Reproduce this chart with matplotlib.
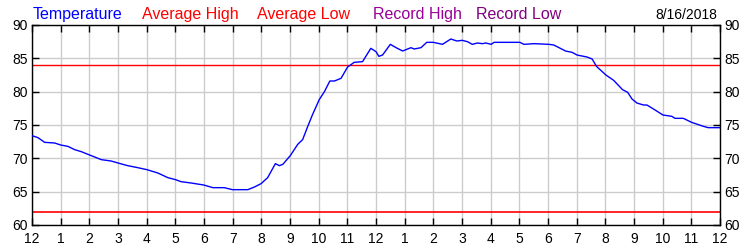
import matplotlib
matplotlib.use("Agg")
import matplotlib.pyplot as plt

hours = [0.0, 0.21, 0.44, 0.79, 1.0, 1.25, 1.49, 1.72, 2.01, 2.42, 2.76, 3.0, 3.34, 3.69,
         4.01, 4.39, 4.74, 5.01, 5.2, 5.55, 5.99, 6.31, 6.71, 6.99, 7.53, 7.76, 7.99, 8.22,
         8.49, 8.63, 8.75, 9.01, 9.27, 9.44, 9.62, 9.79, 10.02, 10.2, 10.39, 10.55, 10.78,
         11.01, 11.24, 11.53, 11.82, 12.0, 12.1, 12.23, 12.5, 12.7, 12.93, 13.22, 13.33,
         13.57, 13.77, 14.0, 14.32, 14.61, 14.82, 15.01, 15.19, 15.36, 15.54, 15.71, 15.83,
         16.02, 16.12, 17.02, 17.16, 17.51, 18.03, 18.2, 18.43, 18.61, 18.84, 19.01, 19.36,
         19.54, 19.69, 20.02, 20.29, 20.6, 20.78, 20.93, 21.1, 21.33, 21.45, 21.68, 22.01,
         22.32, 22.43, 22.72, 23.01, 23.42, 23.59, 24.0]
temps = [73.4, 73.1, 72.4, 72.3, 72.0, 71.8, 71.3, 71.0, 70.5, 69.8, 69.6, 69.3, 68.9, 68.6,
         68.3, 67.8, 67.1, 66.8, 66.5, 66.3, 66.0, 65.6, 65.6, 65.3, 65.3, 65.7, 66.2, 67.1,
         69.2, 68.9, 69.1, 70.4, 72.1, 72.8, 74.8, 76.6, 78.8, 80.0, 81.6, 81.6, 82.0,
         83.7, 84.4, 84.5, 86.5, 86.0, 85.3, 85.5, 87.1, 86.6, 86.1, 86.6, 86.4,
         86.6, 87.4, 87.4, 87.1, 87.9, 87.6, 87.7, 87.5, 87.1, 87.3, 87.2, 87.3,
         87.1, 87.4, 87.4, 87.1, 87.2, 87.1, 87.0, 86.5, 86.1, 85.9, 85.5, 85.2,
         84.9, 83.8, 82.5, 81.7, 80.3, 79.9, 78.9, 78.3, 78.0, 78.0, 77.4, 76.5,
         76.3, 76.0, 76.0, 75.4, 74.8, 74.6, 74.6]
avg_high = 84
avg_low = 62
x_tick_labels = ["12", "1", "2", "3", "4", "5", "6", "7", "8", "9", "10", "11",
                 "12", "1", "2", "3", "4", "5", "6", "7", "8", "9", "10", "11", "12"]
y_ticks = [60, 65, 70, 75, 80, 85, 90]
legend_items = [("Temperature", "#0000FF"), ("Average High", "#FF0000"),
                ("Average Low", "#FF0000"), ("Record High", "#990099"),
                ("Record Low", "#800080")]
date_label = "8/16/2018"

plt.rcParams['font.family'] = ['Liberation Sans', 'DejaVu Sans']

fig = plt.figure(figsize=(7.5, 2.5), dpi=100)
ax = fig.add_axes([32/750, 1 - 225/250, (720-32)/750, (225-25)/250])

ax.plot(hours, temps, color="#0000FF", lw=1.0, zorder=3)
ax.axhline(avg_high, color="#FF0000", lw=1.0, zorder=2)
ax.axhline(avg_low, color="#FF0000", lw=1.2, zorder=2)

ax.set_xlim(0, 24)
ax.set_ylim(60, 90)
ax.set_xticks(range(25))
ax.set_xticklabels(x_tick_labels)
ax.set_yticks(y_ticks)
ax.grid(True, color="#CCCCCC", lw=1.0, zorder=0)
ax.tick_params(axis='both', direction='in', length=5, width=1, colors='black',
               labelsize=10, top=True, right=True, labelright=True)
ax.tick_params(axis='x', pad=5)
ax.tick_params(axis='y', pad=3)
for s in ax.spines.values():
    s.set_color('black')
    s.set_linewidth(1.0)

xs = [33, 142, 257, 373, 476]
for (label, col), x in zip(legend_items, xs):
    fig.text(x/750, 1 - 19/250, label, color=col, fontsize=11.5, ha='left', va='baseline')
fig.text(717/750, 1 - 19/250, date_label, color='black', fontsize=10, ha='right', va='baseline')

fig.savefig("out.png", dpi=100)
